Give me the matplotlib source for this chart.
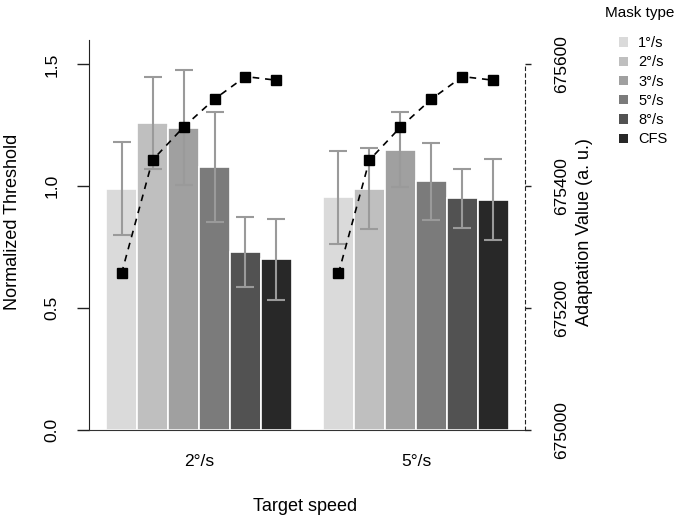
import matplotlib
matplotlib.use('Agg')
import matplotlib.pyplot as plt
from matplotlib.patches import Patch

plt.rcParams['font.family'] = ['Liberation Sans', 'DejaVu Sans']

speeds = ['2°/s', '5°/s']
masks = ['1°/s', '2°/s', '3°/s', '5°/s', '8°/s', 'CFS']
colors = ['#dadada', '#bfbfbf', '#a0a0a0', '#7b7b7b', '#525252', '#282828']

thr_2 = [0.99, 1.26, 1.24, 1.08, 0.73, 0.70]
err_2 = [0.19, 0.19, 0.235, 0.225, 0.145, 0.165]
thr_5 = [0.955, 0.99, 1.15, 1.02, 0.95, 0.945]
err_5 = [0.19, 0.165, 0.155, 0.157, 0.12, 0.165]

adapt = [675257, 675443, 675497, 675543, 675580, 675574]

fig = plt.figure(figsize=(6.79, 5.18), dpi=100)
ax = fig.add_axes([89/679, 88/518, 436/679, 390/518])

groups = [(0, thr_2, err_2), (7, thr_5, err_5)]
for start, vals, errs in groups:
    xs = [start + i for i in range(6)]
    ax.bar(xs, vals, width=1.0, color=colors, edgecolor='white', linewidth=1.2, zorder=2)
    ax.errorbar(xs, vals, yerr=errs, fmt='none', ecolor='#9a9a9a', elinewidth=1.5,
                capsize=6.5, capthick=1.5, zorder=3)

ax.set_xlim(-1.05, 13.02)
ax.set_ylim(0, 1.6)
ax.set_yticks([0.0, 0.5, 1.0, 1.5])
ax.set_yticklabels(['0.0', '0.5', '1.0', '1.5'], rotation=90, va='center')
ax.set_xticks([2.5, 9.5])
ax.set_xticklabels(speeds)
ax.tick_params(axis='x', length=0, pad=17, labelsize=12.5)
ax.tick_params(axis='y', length=8.5, width=1, pad=13, labelsize=12.5, color='#222222')
for s in ['top', 'right']:
    ax.spines[s].set_visible(False)
ax.spines['left'].set_color('#222222')
ax.spines['bottom'].set_color('#333333')
ax.set_ylabel('Normalized Threshold', fontsize=13)
ax.yaxis.set_label_coords(-0.155, 0.533)
ax.set_xlabel('Target speed', fontsize=13)
ax.xaxis.set_label_coords(0.495, -0.175)

ax2 = ax.twinx()
ax2.set_ylim(675000, 675640)
for start, vals, errs in groups:
    xs = [start + i for i in range(6)]
    ax2.plot(xs, adapt, color='black', linestyle=(0, (4, 3.5)), linewidth=1.2,
             marker='s', markersize=6.5, zorder=4)
ax2.set_yticks([675000, 675200, 675400, 675600])
ax2.set_yticklabels(['675000', '675200', '675400', '675600'], rotation=90, va='center')
ax2.tick_params(axis='y', length=4, width=1, pad=17, labelsize=12.5, color='#222222')
for s in ['top', 'left', 'bottom']:
    ax2.spines[s].set_visible(False)
ax2.spines['right'].set_linestyle((0, (3, 3)))
ax2.spines['right'].set_color('#222222')
ax2.spines['right'].set_bounds(675000, 675600)
ax2.set_ylabel('Adaptation Value (a. u.)', fontsize=13)
ax2.yaxis.set_label_coords(1.118, 0.508)

fig.text(605/679, 1 - 13/518, 'Mask type', fontsize=11, ha='left', va='center')
handles = [Patch(facecolor=c, edgecolor='none') for c in colors]
fig.legend(handles, masks, loc='upper left',
           bbox_to_anchor=(609/679, 1 - 26/518), frameon=False, fontsize=10.5,
           handlelength=0.6, handleheight=0.6,
           handletextpad=0.7, labelspacing=0.36, borderpad=0.2)

fig.savefig('out.png', dpi=100)
